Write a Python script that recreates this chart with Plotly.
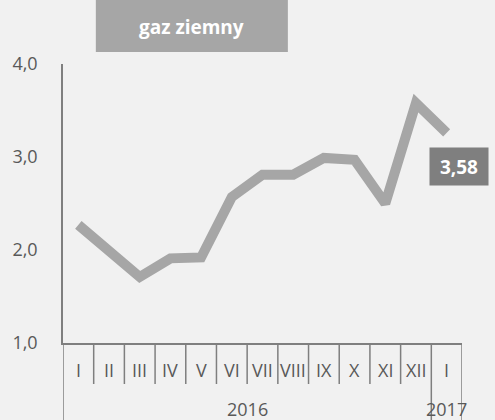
import plotly.graph_objects as go

months = ["I", "II", "III", "IV", "V", "VI", "VII", "VIII", "IX", "X", "XI", "XII", "I"]
values = [2.27, 2.00, 1.71, 1.91, 1.92, 2.57, 2.81, 2.81, 2.99, 2.97, 2.50, 3.58, 3.26]
years = ["2016", "2017"]
title = "gaz ziemny"
y_ticks = [1.0, 2.0, 3.0, 4.0]

W, H = 495, 420
L, R, T, B = 61, 33, 64, 77
pw, ph = W - L - R, H - T - B

def px(x):
    return (x - L) / pw

def py(y):
    return (H - B - y) / ph

LINE_C = "#a6a6a6"
AX_C = "#7f7f7f"
TXT_C = "#595959"
FONT = "Open Sans"
FS = 18

xs = list(range(len(months)))
fig = go.Figure()
fig.add_trace(go.Scatter(x=xs, y=values, mode="lines",
                         line=dict(color=LINE_C, width=10, shape="linear"),
                         hoverinfo="skip"))

shapes = []
n = len(months)
for i in range(n + 1):
    xb = i - 0.5
    long = i in (0, n - 1, n)
    shapes.append(dict(type="line", xref="x", yref="paper", x0=xb, x1=xb,
                       y0=0, y1=py(H) if long else py(384),
                       line=dict(color=AX_C, width=1.5)))
# title box
shapes.append(dict(type="rect", xref="paper", yref="paper", x0=px(94), x1=px(287),
                   y0=py(52), y1=py(0), fillcolor=LINE_C, line=dict(width=0), layer="below"))

annotations = []
for i, m in enumerate(months):
    annotations.append(dict(x=i, y=py(370), xref="x", yref="paper", text=m, showarrow=False,
                            xanchor="center", yanchor="middle",
                            font=dict(family=FONT, size=FS, color=TXT_C)))
annotations.append(dict(x=5.5, y=py(409), xref="x", yref="paper", text=years[0], showarrow=False,
                        xanchor="center", yanchor="middle",
                        font=dict(family=FONT, size=FS, color=TXT_C)))
annotations.append(dict(x=12, y=py(409), xref="x", yref="paper", text=years[1], showarrow=False,
                        xanchor="center", yanchor="middle",
                        font=dict(family=FONT, size=FS, color=TXT_C)))
annotations.append(dict(x=px(190), y=py(27), xref="paper", yref="paper", text="<b>" + title + "</b>",
                        showarrow=False, xanchor="center", yanchor="middle",
                        font=dict(family=FONT, size=19, color="white")))
label = f"{values[11]:.2f}".replace(".", ",")
annotations.append(dict(x=px(459), y=py(166.5), xref="paper", yref="paper", text="<b>" + label + "</b>",
                        showarrow=False, bgcolor="#7f7f7f", borderpad=0, width=58, height=37,
                        xanchor="center", yanchor="middle",
                        font=dict(family=FONT, size=19, color="white")))

fig.update_layout(
    width=W, height=H,
    margin=dict(l=L, r=R, t=T, b=B, pad=0),
    paper_bgcolor="#f1f1f1", plot_bgcolor="rgba(0,0,0,0)",
    showlegend=False,
    separators=", ",
    font=dict(family=FONT, color=TXT_C, size=FS),
    xaxis=dict(range=[-0.5, n - 0.5], showgrid=False, zeroline=False, showticklabels=False,
               showline=True, linecolor=AX_C, linewidth=1.5, ticks=""),
    yaxis=dict(range=[1, 4], tickvals=y_ticks, tickformat=".1f", showgrid=False, zeroline=False,
               showline=True, linecolor=AX_C, linewidth=1.5, ticks="",
               ticklabelstandoff=20, tickfont=dict(family=FONT, size=FS, color=TXT_C)),
    shapes=shapes, annotations=annotations,
)
fig.write_html("out.html", config={"displayModeBar": False},
               post_script="document.body.style.margin='0';document.body.style.background='#f1f1f1';")
